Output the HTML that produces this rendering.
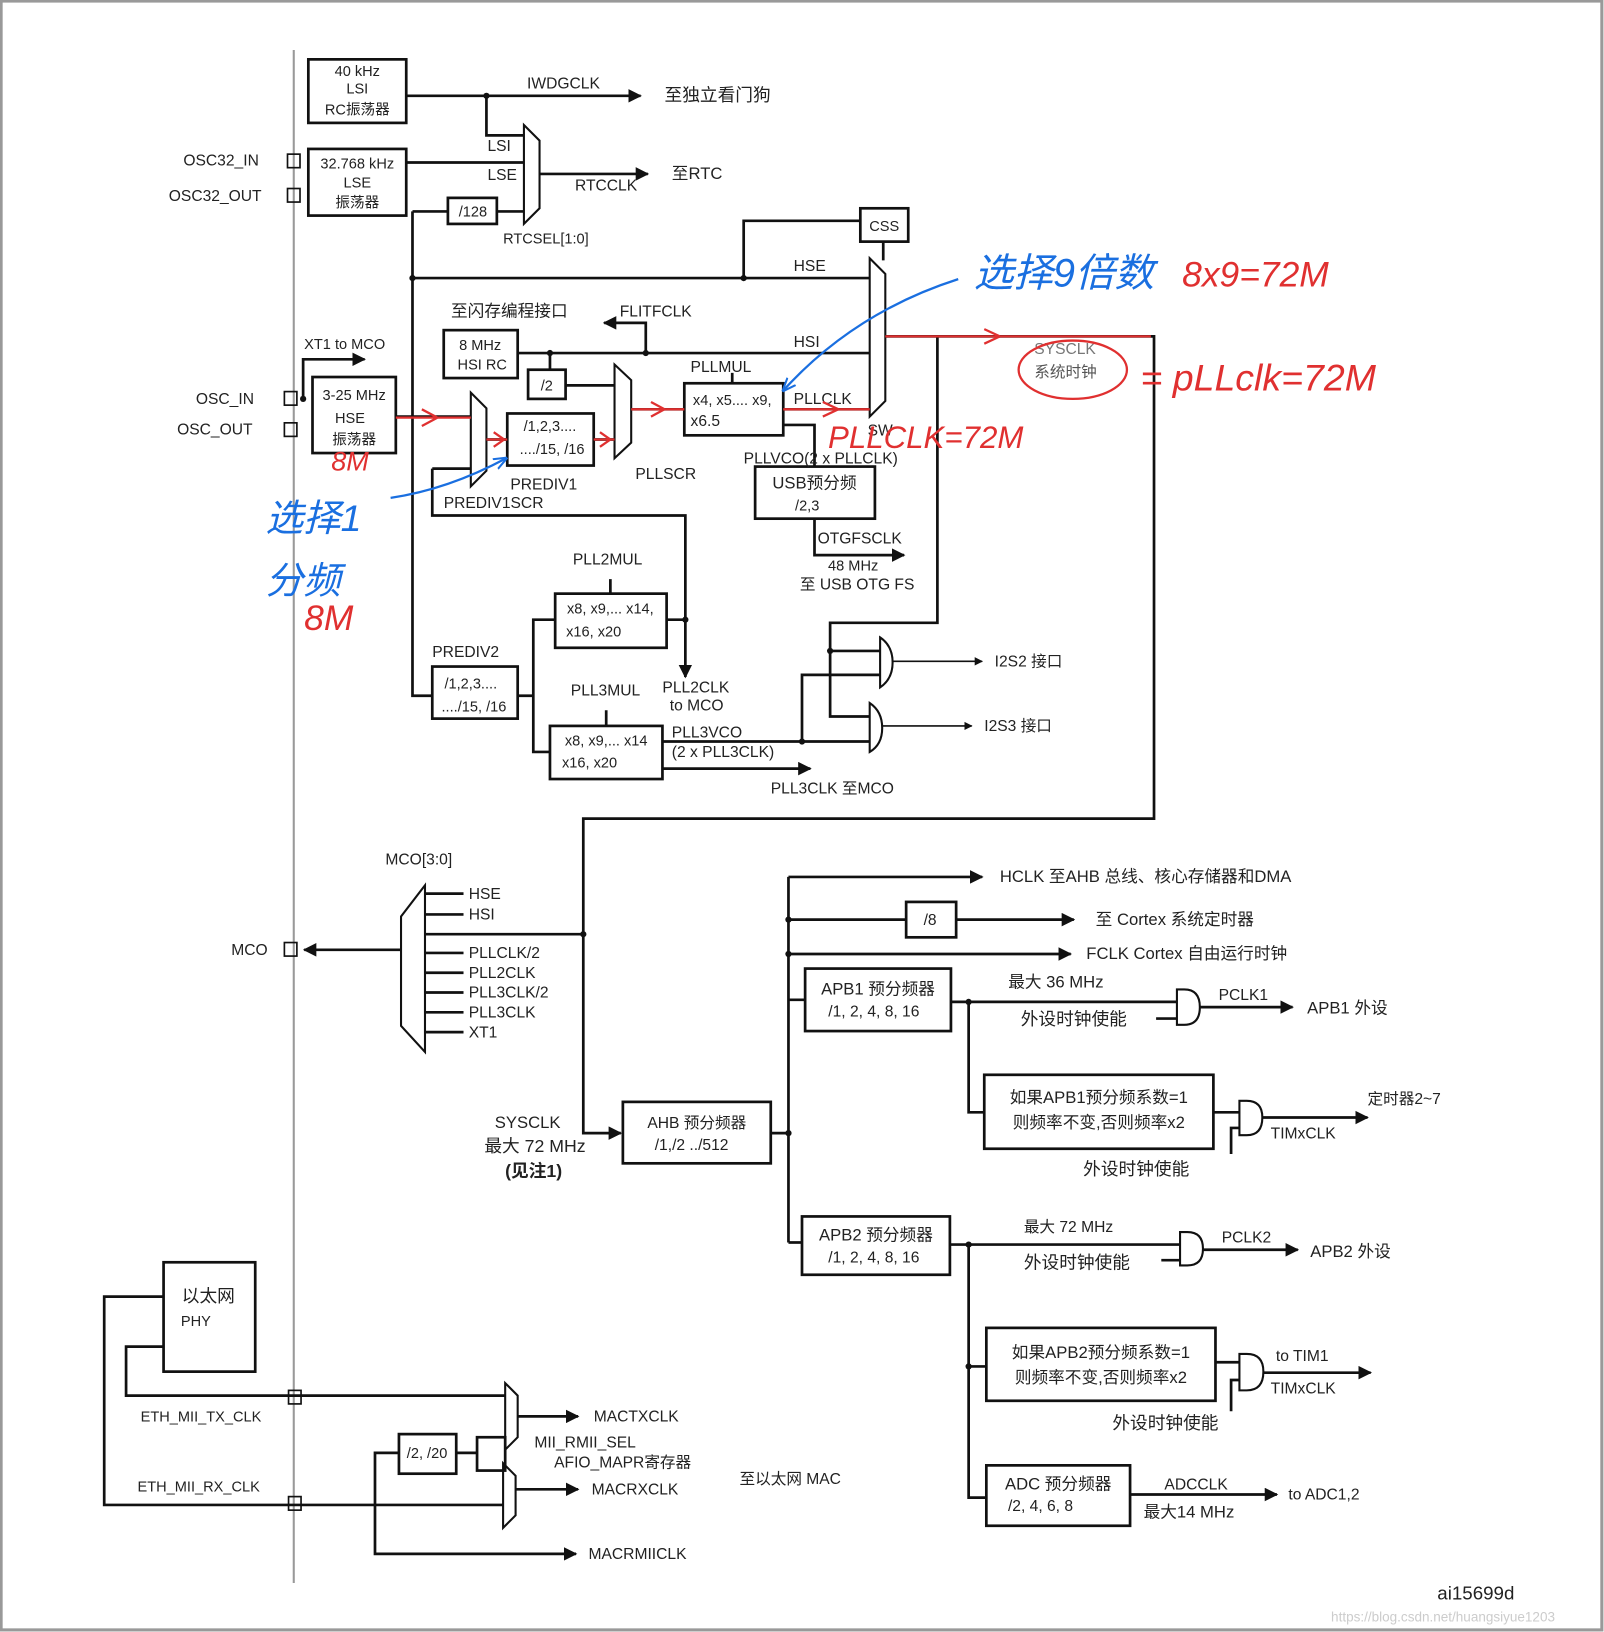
<!DOCTYPE html>
<html><head><meta charset="utf-8"><style>
html,body{margin:0;padding:0;background:#fff}
svg{display:block}
text{font-family:"Liberation Sans","Noto Sans CJK SC",sans-serif}
</style></head><body>
<svg width="1604" height="1632" viewBox="0 0 1540 1567" xmlns="http://www.w3.org/2000/svg" fill="#222">
<defs>
<marker id="a" viewBox="0 0 10 10" refX="9" refY="5" markerWidth="5" markerHeight="5" orient="auto"><path d="M0,0L10,5L0,10z" fill="#111"/></marker>
<marker id="ab" viewBox="0 0 10 10" refX="9" refY="5" markerWidth="6" markerHeight="6" orient="auto"><path d="M0,1L10,5L0,9" fill="none" stroke="#1a6fe0" stroke-width="1.5"/></marker>
</defs>
<rect x="1" y="1" width="1537" height="1564" fill="#fff" stroke="#999" stroke-width="3"/>
<line x1="282" y1="48" x2="282" y2="1520" stroke="#999" stroke-width="2"/>

<g stroke="#111" stroke-width="2.6" fill="none">
<rect x="296" y="57" width="94" height="61"/>
<rect x="296" y="143" width="94" height="64"/>
<rect x="276" y="148" width="12" height="13" stroke-width="1.6"/>
<rect x="276" y="181" width="12" height="13" stroke-width="1.6"/>
<path d="M390,92H615" marker-end="url(#a)"/>
<path d="M467,92V130H503"/>
<path d="M390,156H503"/>
<path d="M503,120L518,135V200L503,215Z" stroke-width="2"/>
<rect x="430" y="190" width="47" height="25"/>
<path d="M396,203H430M477,203H503"/>
<path d="M518,167H622" marker-end="url(#a)"/>
<path d="M396,203V668H415"/>
<path d="M396,267H835"/>
<path d="M714,267V212H826"/>
<rect x="826" y="200" width="46" height="32"/>
<path d="M848,232V250"/>
<path d="M835,248L850,263V385L835,400Z" stroke-width="2"/>
<rect x="426" y="317" width="71" height="46"/>
<path d="M497,339H835"/>
<path d="M620,339V310H580" marker-end="url(#a)"/>
<path d="M528,339V355"/>
<rect x="507" y="355" width="36" height="28"/>
<path d="M543,370H590"/>
<path d="M590,350L606,365V425L590,440Z" stroke-width="2"/>
<path d="M291,383V345H350" marker-end="url(#a)"/>
<rect x="273" y="376" width="12" height="13" stroke-width="1.6"/>
<rect x="273" y="406" width="12" height="13" stroke-width="1.6"/>
<rect x="300" y="362" width="80" height="73"/>
<path d="M380,400H452"/>
<path d="M452,377L467,392V452L452,467Z" stroke-width="2"/>
<rect x="487" y="397" width="83" height="50"/>
<path d="M467,422H487M570,422H590"/>
<path d="M606,393H657"/>
<rect x="657" y="368" width="95" height="50"/>
<path d="M703,358V368"/>
<path d="M752,393H835"/>
<path d="M752,408H782V448"/>
<rect x="725" y="448" width="115" height="50"/>
<path d="M782,498V533H868" marker-end="url(#a)"/>
<path d="M850,323H1108V786H560V1088H596" marker-end="url(#a)"/>
<path d="M900,323V598H797V688H835"/>
<path d="M797,625H845"/>
<path d="M415,450V495H658V650" marker-end="url(#a)"/>
<path d="M415,450H452"/>
<rect x="415" y="640" width="82" height="50"/>
<path d="M497,668H512V595H533M512,668V722H528"/>
<rect x="533" y="570" width="107" height="52"/>
<path d="M586,556V570M582,682V697"/>
<path d="M640,595H658"/>
<rect x="528" y="697" width="108" height="51"/>
<path d="M636,712H835"/>
<path d="M636,738H778" marker-end="url(#a)"/>
<path d="M770,712V648H845"/>
<path d="M845,612Q857,620 857,636Q857,652 845,660Z" stroke-width="2"/>
<path d="M835,675Q847,683 847,699Q847,715 835,722Z" stroke-width="2"/>
<path d="M857,635H943" stroke-width="1.6" marker-end="url(#a)"/>
<path d="M847,697H933" stroke-width="1.6" marker-end="url(#a)"/>
<path d="M408,850V1010L385,985V880Z" stroke-width="2"/>
<path d="M385,912H292" marker-end="url(#a)"/>
<rect x="273" y="905" width="12" height="13" stroke-width="1.6"/>
<path d="M408,858H445M408,878H445M408,897H560M408,915H445M408,934H445M408,953H445M408,972H445M408,991H445"/>
<rect x="598" y="1058" width="142" height="59"/>
<path d="M740,1088H757M757,842V1193"/>
<path d="M757,842H943" marker-end="url(#a)"/>
<path d="M757,883H870M918,883H1031" marker-end="url(#a)"/>
<rect x="870" y="866" width="48" height="34"/>
<path d="M757,916H1028" marker-end="url(#a)"/>
<path d="M757,960H773"/>
<rect x="773" y="930" width="140" height="60"/>
<path d="M913,962H1130M930,962V1068H945"/>
<path d="M1130,950H1137Q1152,950 1152,967Q1152,984 1137,984H1130Z" stroke-width="2"/>
<path d="M1110,978H1130"/>
<path d="M1152,967H1241" marker-end="url(#a)"/>
<rect x="945" y="1032" width="220" height="71"/>
<path d="M1165,1068H1190"/>
<path d="M1190,1057H1197Q1212,1057 1212,1073Q1212,1090 1197,1090H1190Z" stroke-width="2"/>
<path d="M1182,1108V1083H1190"/>
<path d="M1212,1073H1313" marker-end="url(#a)"/>
<path d="M757,1193H770"/>
<rect x="770" y="1168" width="142" height="56"/>
<path d="M912,1195H1133M930,1195V1438H947M930,1312H947"/>
<path d="M1133,1183H1140Q1155,1183 1155,1199Q1155,1215 1140,1215H1133Z" stroke-width="2"/>
<path d="M1115,1210H1133"/>
<path d="M1155,1200H1246" marker-end="url(#a)"/>
<rect x="947" y="1275" width="220" height="70"/>
<path d="M1167,1308H1190"/>
<path d="M1190,1300H1197Q1213,1300 1213,1317Q1213,1335 1197,1335H1190Z" stroke-width="2"/>
<path d="M1182,1355V1325H1190"/>
<path d="M1213,1318H1316" marker-end="url(#a)"/>
<rect x="947" y="1407" width="138" height="58"/>
<path d="M1085,1435H1226" marker-end="url(#a)"/>
<rect x="157" y="1212" width="88" height="105"/>
<path d="M157,1245H100V1445H483"/>
<path d="M157,1293H121V1340H485"/>
<rect x="277" y="1335" width="12" height="13" stroke-width="1.6"/>
<rect x="277" y="1437" width="12" height="13" stroke-width="1.6"/>
<path d="M485,1328L497,1340V1380L485,1392Z" stroke-width="2"/>
<path d="M483,1405L495,1417V1455L483,1467Z" stroke-width="2"/>
<path d="M497,1360H555" marker-end="url(#a)"/>
<path d="M495,1430H555" marker-end="url(#a)"/>
<rect x="383" y="1377" width="55" height="38"/>
<path d="M360,1445V1395H383M438,1395H458"/>
<rect x="458" y="1380" width="27" height="32"/>
<path d="M360,1445V1492H553" marker-end="url(#a)"/>
</g>
<g fill="#111">
<circle cx="467" cy="92" r="3"/><circle cx="396" cy="267" r="3"/><circle cx="714" cy="267" r="3"/>
<circle cx="620" cy="339" r="3"/><circle cx="528" cy="339" r="3"/><circle cx="658" cy="595" r="3"/>
<circle cx="770" cy="712" r="3"/><circle cx="797" cy="625" r="3"/><circle cx="560" cy="897" r="3"/>
<circle cx="757" cy="883" r="3"/><circle cx="757" cy="916" r="3"/><circle cx="757" cy="1088" r="3"/>
<circle cx="930" cy="962" r="3"/><circle cx="930" cy="1195" r="3"/><circle cx="930" cy="1312" r="3"/>
<circle cx="291" cy="383" r="3"/>
</g>

<g font-size="14" text-anchor="middle" fill="#222">
<text x="343" y="73">40 kHz</text><text x="343" y="90">LSI</text><text x="343" y="110">RC振荡器</text>
<text x="343" y="162">32.768 kHz</text><text x="343" y="180">LSE</text><text x="343" y="199">振荡器</text>
<text x="454" y="208">/128</text>
<text x="849" y="222">CSS</text>
<text x="461" y="336">8 MHz</text><text x="463" y="355">HSI RC</text>
<text x="525" y="375">/2</text>
<text x="340" y="384">3-25 MHz</text><text x="336" y="406">HSE</text><text x="340" y="427">振荡器</text>
<text x="528" y="414">/1,2,3....</text><text x="530" y="436">..../15, /16</text>
<text x="703" y="389">x4, x5.... x9,</text>
<text x="782" y="469" font-size="16">USB预分频</text><text x="775" y="490">/2,3</text>
<text x="586" y="589">x8, x9,... x14,</text><text x="570" y="611">x16, x20</text>
<text x="452" y="661">/1,2,3....</text><text x="455" y="683">..../15, /16</text>
<text x="582" y="716">x8, x9,... x14</text><text x="566" y="737">x16, x20</text>
<text x="669" y="1083" font-size="15">AHB 预分频器</text><text x="664" y="1104" font-size="15">/1,/2 ../512</text>
<text x="893" y="888" font-size="15">/8</text>
<text x="843" y="955" font-size="16">APB1 预分频器</text><text x="839" y="976" font-size="15">/1, 2, 4, 8, 16</text>
<text x="1055" y="1059" font-size="16">如果APB1预分频系数=1</text><text x="1055" y="1083" font-size="16">则频率不变,否则频率x2</text>
<text x="841" y="1191" font-size="16">APB2 预分频器</text><text x="839" y="1212" font-size="15">/1, 2, 4, 8, 16</text>
<text x="1057" y="1304" font-size="16">如果APB2预分频系数=1</text><text x="1057" y="1328" font-size="16">则频率不变,否则频率x2</text>
<text x="1016" y="1430" font-size="16">ADC 预分频器</text><text x="999" y="1451" font-size="15">/2, 4, 6, 8</text>
<text x="200" y="1250" font-size="17">以太网</text><text x="188" y="1273">PHY</text>
<text x="410" y="1400">/2, /20</text>
</g>
<g font-size="15" fill="#222">
<text x="506" y="85">IWDGCLK</text><text x="638" y="97" font-size="17">至独立看门狗</text>
<text x="468" y="145">LSI</text><text x="468" y="173">LSE</text>
<text x="552" y="183">RTCCLK</text><text x="645" y="172" font-size="16">至RTC</text>
<text x="483" y="234" font-size="14">RTCSEL[1:0]</text>
<text x="176" y="159">OSC32_IN</text><text x="162" y="193">OSC32_OUT</text>
<text x="762" y="260">HSE</text><text x="762" y="333">HSI</text>
<text x="433" y="304" font-size="16">至闪存编程接口</text><text x="595" y="304">FLITFCLK</text>
<text x="292" y="335" font-size="14">XT1 to MCO</text>
<text x="188" y="388">OSC_IN</text><text x="170" y="417">OSC_OUT</text>
<text x="663" y="357">PLLMUL</text><text x="663" y="409">x6.5</text>
<text x="762" y="388">PLLCLK</text><text x="833" y="418">SW</text>
<text x="714" y="445">PLLVCO(2 x PLLCLK)</text>
<text x="610" y="460">PLLSCR</text><text x="490" y="470">PREDIV1</text><text x="426" y="488">PREDIV1SCR</text>
<text x="993" y="340" fill="#777">SYSCLK</text><text x="993" y="362" fill="#555">系统时钟</text>
<text x="785" y="522">OTGFSCLK</text><text x="795" y="548" font-size="14">48 MHz</text><text x="768" y="566">至 USB OTG FS</text>
<text x="550" y="542">PLL2MUL</text><text x="415" y="631">PREDIV2</text><text x="548" y="668">PLL3MUL</text>
<text x="636" y="665">PLL2CLK</text><text x="643" y="682">to MCO</text>
<text x="645" y="708">PLL3VCO</text><text x="645" y="727">(2 x PLL3CLK)</text>
<text x="740" y="762">PLL3CLK 至MCO</text>
<text x="955" y="640">I2S2 接口</text><text x="945" y="702">I2S3 接口</text>
<text x="370" y="830">MCO[3:0]</text><text x="222" y="917">MCO</text>
<text x="450" y="863">HSE</text><text x="450" y="883">HSI</text><text x="450" y="920">PLLCLK/2</text>
<text x="450" y="939">PLL2CLK</text><text x="450" y="958">PLL3CLK/2</text><text x="450" y="977">PLL3CLK</text><text x="450" y="996">XT1</text>
<text x="475" y="1083" font-size="16">SYSCLK</text><text x="465" y="1106" font-size="17">最大 72 MHz</text><text x="485" y="1130" font-size="17" font-weight="bold">(见注1)</text>
<text x="960" y="847" font-size="16">HCLK 至AHB 总线、核心存储器和DMA</text>
<text x="1052" y="888" font-size="16">至 Cortex 系统定时器</text>
<text x="1043" y="921" font-size="16">FCLK Cortex 自由运行时钟</text>
<text x="968" y="948" font-size="16">最大 36 MHz</text><text x="980" y="984" font-size="17">外设时钟使能</text>
<text x="1170" y="960">PCLK1</text><text x="1255" y="973" font-size="16">APB1 外设</text>
<text x="1313" y="1060">定时器2~7</text><text x="1220" y="1093">TIMxCLK</text>
<text x="1040" y="1128" font-size="17">外设时钟使能</text>
<text x="983" y="1183">最大 72 MHz</text><text x="983" y="1218" font-size="17">外设时钟使能</text>
<text x="1173" y="1193">PCLK2</text><text x="1258" y="1207" font-size="16">APB2 外设</text>
<text x="1225" y="1307">to TIM1</text><text x="1220" y="1338">TIMxCLK</text>
<text x="1068" y="1372" font-size="17">外设时钟使能</text>
<text x="1118" y="1430">ADCCLK</text><text x="1098" y="1457" font-size="16">最大14 MHz</text><text x="1237" y="1440">to ADC1,2</text>
<text x="135" y="1365" font-size="14">ETH_MII_TX_CLK</text><text x="132" y="1432" font-size="14">ETH_MII_RX_CLK</text>
<text x="570" y="1365">MACTXCLK</text><text x="513" y="1390">MII_RMII_SEL</text><text x="532" y="1409">AFIO_MAPR寄存器</text>
<text x="568" y="1435">MACRXCLK</text><text x="710" y="1425">至以太网 MAC</text><text x="565" y="1497">MACRMIICLK</text>
<text x="1380" y="1536" font-size="18">ai15699d</text>
<text x="1278" y="1557" font-size="13" fill="#ccc">https://blog.csdn.net/huangsiyue1203</text>
</g>

<g stroke="#e03030" stroke-width="2.2" fill="none">
<path d="M380,401H452M405,393L420,401L405,409"/>
<path d="M467,422H487M474,415L484,422L474,429"/>
<path d="M570,422H590M576,415L586,422L576,429"/>
<path d="M606,393H657M625,386L638,393L625,400"/>
<path d="M752,393H835M790,386L805,393L790,400"/>
<path d="M850,323H1105M945,316L960,323L945,330"/>
<ellipse cx="1030" cy="355" rx="52" ry="28"/>
</g>
<g fill="#e03030" font-family="Liberation Serif,serif" font-style="italic">
<text x="1135" y="275" font-size="34">8x9=72M</text>
<text x="1095" y="375" font-size="36">= pLLclk=72M</text>
<text x="795" y="430" font-size="30">PLLCLK=72M</text>
<text x="318" y="452" font-size="26">8M</text>
<text x="292" y="605" font-size="34">8M</text>
</g>
<g stroke="#1a6fe0" stroke-width="2.2" fill="none">
<path d="M920,268Q820,300 752,375" marker-end="url(#ab)"/>
<path d="M375,478Q430,470 486,440" marker-end="url(#ab)"/>
</g>
<g fill="#1a6fe0" font-family="Liberation Serif,'Noto Serif CJK SC',serif" font-style="italic">
<text x="935" y="275" font-size="38">选择9倍数</text>
<text x="255" y="510" font-size="36">选择1</text>
<text x="255" y="570" font-size="36">分频</text>
</g>
</svg>
</body></html>
